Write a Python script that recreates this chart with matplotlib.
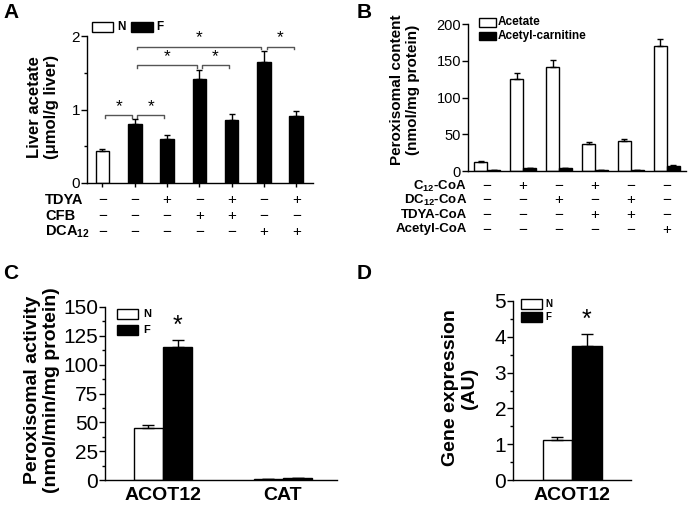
import numpy as np
import matplotlib.pyplot as plt
import matplotlib.transforms as mtransforms
from matplotlib.patches import Rectangle
from matplotlib.ticker import MultipleLocator

plt.rcParams['font.family'] = 'Liberation Sans'
plt.rcParams['mathtext.fontset'] = 'custom'
plt.rcParams['mathtext.rm'] = 'Liberation Sans'
plt.rcParams['mathtext.bf'] = 'Liberation Sans:bold'

W, H = 688, 505

# panel A - liver acetate
a_fill = ['white', 'black', 'black', 'black', 'black', 'black', 'black']
a_vals = [0.43, 0.80, 0.60, 1.42, 0.86, 1.65, 0.91]
a_err = [0.03, 0.07, 0.05, 0.12, 0.08, 0.15, 0.07]
a_row_names = ['TDYA', 'CFB', r'DCA$_{\mathbf{12}}$']
a_tdya = ['-', '-', '+', '-', '+', '-', '+']
a_cfb = ['-', '-', '-', '+', '+', '-', '-']
a_dca = ['-', '-', '-', '-', '-', '+', '+']
a_sig = [(0, 1, 0.92), (1, 2, 0.92), (1, 3, 1.6), (3, 4, 1.6), (1, 5, 1.85), (5, 6, 1.85)]

# panel B - peroxisomal content
b_acetate = [12, 125, 141, 37, 41, 170]
b_acetate_err = [1, 9, 10, 3, 3, 10]
b_carn = [1, 3.5, 4, 1, 1, 7]
b_carn_err = [0.3, 0.5, 0.5, 0.3, 0.3, 0.6]
b_row_names = [r'C$_{\mathbf{12}}$-CoA', r'DC$_{\mathbf{12}}$-CoA', 'TDYA-CoA', 'Acetyl-CoA']
b_c12 = ['-', '+', '-', '+', '-', '-']
b_dc12 = ['-', '-', '+', '-', '+', '-']
b_tdya = ['-', '-', '-', '+', '+', '-']
b_acetyl = ['-', '-', '-', '-', '-', '+']

# panel C - peroxisomal activity
c_cats = ['ACOT12', 'CAT']
c_n = [45, 1.0]
c_n_err = [3, 0.2]
c_f = [115, 1.5]
c_f_err = [6, 0.3]

# panel D - gene expression
d_cats = ['ACOT12']
d_n = [1.12]
d_n_err = [0.09]
d_f = [3.75]
d_f_err = [0.33]

fig = plt.figure(figsize=(W / 100, H / 100), dpi=100)


def px_axes(x0, y0, x1, y1):
    return fig.add_axes([x0 / W, 1 - y1 / H, (x1 - x0) / W, (y1 - y0) / H])


def style(ax, fs):
    for s in ['top', 'right']:
        ax.spines[s].set_visible(False)
    for s in ['left', 'bottom']:
        ax.spines[s].set_linewidth(1)
    ax.tick_params(axis='y', which='major', direction='out', length=4, width=1, labelsize=fs, pad=1)
    ax.tick_params(axis='y', which='minor', direction='out', length=2.5, width=1)


def box(x, y, w, h, fc):
    fig.add_artist(Rectangle((x / W, 1 - (y + h) / H), w / W, h / H, transform=fig.transFigure,
                             facecolor=fc, edgecolor='black', lw=1))


def ftext(x, y, s, **kw):
    fig.text(x / W, 1 - y / H, s, **kw)


def sign(c):
    return '\u2212' if c == '-' else '+'


# ---------------- A
ax = px_axes(87, 36, 313, 183)
xa = np.arange(len(a_vals))
ax.bar(xa, a_vals, width=0.42, color=a_fill, edgecolor='black', lw=1, zorder=2)
ax.errorbar(xa, a_vals, yerr=[np.zeros(len(a_err)), a_err], fmt='none', ecolor='black',
            elinewidth=1, capsize=2.5, capthick=1, zorder=3)
ax.set_xlim(-0.48, 6.52)
ax.set_ylim(0, 2)
ax.yaxis.set_major_locator(MultipleLocator(1))
ax.yaxis.set_minor_locator(MultipleLocator(0.5))
style(ax, 11)
ax.set_xticks(xa)
ax.set_xticklabels([])
ax.tick_params(axis='x', direction='out', length=3, width=1)
for i, j, y in a_sig:
    x1, x2 = i + 0.08, j - 0.08
    ax.plot([x1, x1, x2, x2], [y - 0.03, y, y, y - 0.03], color='#555555', lw=1, clip_on=False)
    ax.text((i + j) / 2, y + 0.02, '*', ha='center', va='bottom', fontsize=12.5, clip_on=False)
trans = mtransforms.blended_transform_factory(ax.transData, ax.transAxes)
for row, yf in zip([a_tdya, a_cfb, a_dca], [-0.116, -0.224, -0.333]):
    for i, c in enumerate(row):
        ax.text(i, yf, sign(c), transform=trans, ha='center', va='center', fontsize=11)
for name, yp in zip(a_row_names, [200, 216, 232]):
    ftext(45, yp, name, ha='left', va='center', fontsize=10.5, weight='bold')
ftext(43, 107, 'Liver acetate\n(\u03bcmol/g liver)', rotation=90, ha='center', va='center',
      fontsize=12, weight='bold', linespacing=1.2)
box(92, 22, 21, 10, 'white')
ftext(117, 27, 'N', ha='left', va='center', fontsize=8.5, weight='bold')
box(131, 22, 22, 10, 'black')
ftext(156, 27, 'F', ha='left', va='center', fontsize=8.5, weight='bold')
ftext(3, 18, 'A', fontsize=15, weight='bold', va='baseline')

# ---------------- B
ax = px_axes(468, 24, 686, 171)
xb = np.arange(len(b_acetate))
bw = 0.36
ax.bar(xb - bw / 2, b_acetate, width=bw, color='white', edgecolor='black', lw=1, zorder=2)
ax.bar(xb + bw / 2, b_carn, width=bw, color='black', edgecolor='black', lw=1, zorder=2)
ax.errorbar(xb - bw / 2, b_acetate, yerr=[np.zeros(len(xb)), b_acetate_err], fmt='none',
            ecolor='black', elinewidth=1, capsize=2, capthick=1, zorder=3)
ax.errorbar(xb + bw / 2, b_carn, yerr=[np.zeros(len(xb)), b_carn_err], fmt='none',
            ecolor='black', elinewidth=1, capsize=2, capthick=1, zorder=3)
ax.set_xlim(-0.53, 5.53)
ax.set_ylim(0, 200)
ax.yaxis.set_major_locator(MultipleLocator(50))
style(ax, 10.5)
ax.set_xticks([])
trans = mtransforms.blended_transform_factory(ax.transData, ax.transAxes)
for row, yf in zip([b_c12, b_dc12, b_tdya, b_acetyl], [-0.1, -0.2, -0.3, -0.398]):
    for i, c in enumerate(row):
        ax.text(i, yf, sign(c), transform=trans, ha='center', va='center', fontsize=11)
for name, yp in zip(b_row_names, [186, 200, 215, 229]):
    ftext(467, yp, name, ha='right', va='center', fontsize=9.5, weight='bold')
ftext(405, 90, 'Peroxisomal content\n(nmol/mg protein)', rotation=90, ha='center', va='center',
      fontsize=11, weight='bold', linespacing=1.15)
box(479, 18, 17, 9, 'white')
ftext(498, 22, 'Acetate', ha='left', va='center', fontsize=8.5, weight='bold')
box(479, 32, 17, 8, 'black')
ftext(498, 36, 'Acetyl-carnitine', ha='left', va='center', fontsize=8.5, weight='bold')
ftext(357, 18, 'B', fontsize=15, weight='bold', va='baseline')

# ---------------- C
ax = px_axes(105, 307, 337, 480)
xc = np.arange(len(c_cats))
cw = 0.245
ax.bar(xc - cw / 2, c_n, width=cw, color='white', edgecolor='black', lw=1, zorder=2)
ax.bar(xc + cw / 2, c_f, width=cw, color='black', edgecolor='black', lw=1, zorder=2)
ax.errorbar(xc - cw / 2, c_n, yerr=[np.zeros(len(xc)), c_n_err], fmt='none', ecolor='black',
            elinewidth=1, capsize=4.5, capthick=1, zorder=3)
ax.errorbar(xc + cw / 2, c_f, yerr=[np.zeros(len(xc)), c_f_err], fmt='none', ecolor='black',
            elinewidth=1, capsize=4.5, capthick=1, zorder=3)
ax.text(xc[0] + cw / 2, c_f[0] + c_f_err[0] + 2, '*', ha='center', va='bottom', fontsize=18)
ax.set_xlim(-0.483, 1.45)
ax.set_ylim(0, 150)
ax.yaxis.set_major_locator(MultipleLocator(25))
ax.yaxis.set_minor_locator(MultipleLocator(12.5))
style(ax, 15)
ax.set_xticks(xc)
ax.set_xticklabels(c_cats, fontsize=14, weight='bold')
ax.tick_params(axis='x', length=0, pad=5)
ftext(42, 390, 'Peroxisomal activity\n(nmol/min/mg protein)', rotation=90, ha='center',
      va='center', fontsize=14, weight='bold', linespacing=1.1)
box(117, 309, 21, 10, 'white')
ftext(143, 314, 'N', ha='left', va='center', fontsize=8, weight='bold')
box(117, 325, 21, 10, 'black')
ftext(143, 330, 'F', ha='left', va='center', fontsize=8, weight='bold')
ftext(3, 279, 'C', fontsize=15, weight='bold', va='baseline')

# ---------------- D
ax = px_axes(513, 301, 631, 480)
xd = np.arange(len(d_cats))
dw = 0.5
ax.bar(xd - dw / 2, d_n, width=dw, color='white', edgecolor='black', lw=1, zorder=2)
ax.bar(xd + dw / 2, d_f, width=dw, color='black', edgecolor='black', lw=1, zorder=2)
ax.errorbar(xd - dw / 2, d_n, yerr=[np.zeros(len(xd)), d_n_err], fmt='none', ecolor='black',
            elinewidth=1, capsize=4.5, capthick=1, zorder=3)
ax.errorbar(xd + dw / 2, d_f, yerr=[np.zeros(len(xd)), d_f_err], fmt='none', ecolor='black',
            elinewidth=1, capsize=4.5, capthick=1, zorder=3)
ax.text(xd[0] + dw / 2, d_f[0] + d_f_err[0] + 0.05, '*', ha='center', va='bottom', fontsize=18)
ax.set_xlim(-1, 1)
ax.set_ylim(0, 5)
ax.yaxis.set_major_locator(MultipleLocator(1))
ax.yaxis.set_minor_locator(MultipleLocator(0.5))
style(ax, 15)
ax.set_xticks(xd)
ax.set_xticklabels(d_cats, fontsize=14, weight='bold')
ax.tick_params(axis='x', length=0, pad=5)
ftext(460, 388, 'Gene expression\n(AU)', rotation=90, ha='center', va='center',
      fontsize=14, weight='bold', linespacing=1.1)
box(521, 299, 21, 10, 'white')
ftext(545, 304, 'N', ha='left', va='center', fontsize=7, weight='bold')
box(521, 312, 21, 10, 'black')
ftext(545, 317, 'F', ha='left', va='center', fontsize=7, weight='bold')
ftext(357, 279, 'D', fontsize=15, weight='bold', va='baseline')

fig.savefig('out.png', dpi=100)
